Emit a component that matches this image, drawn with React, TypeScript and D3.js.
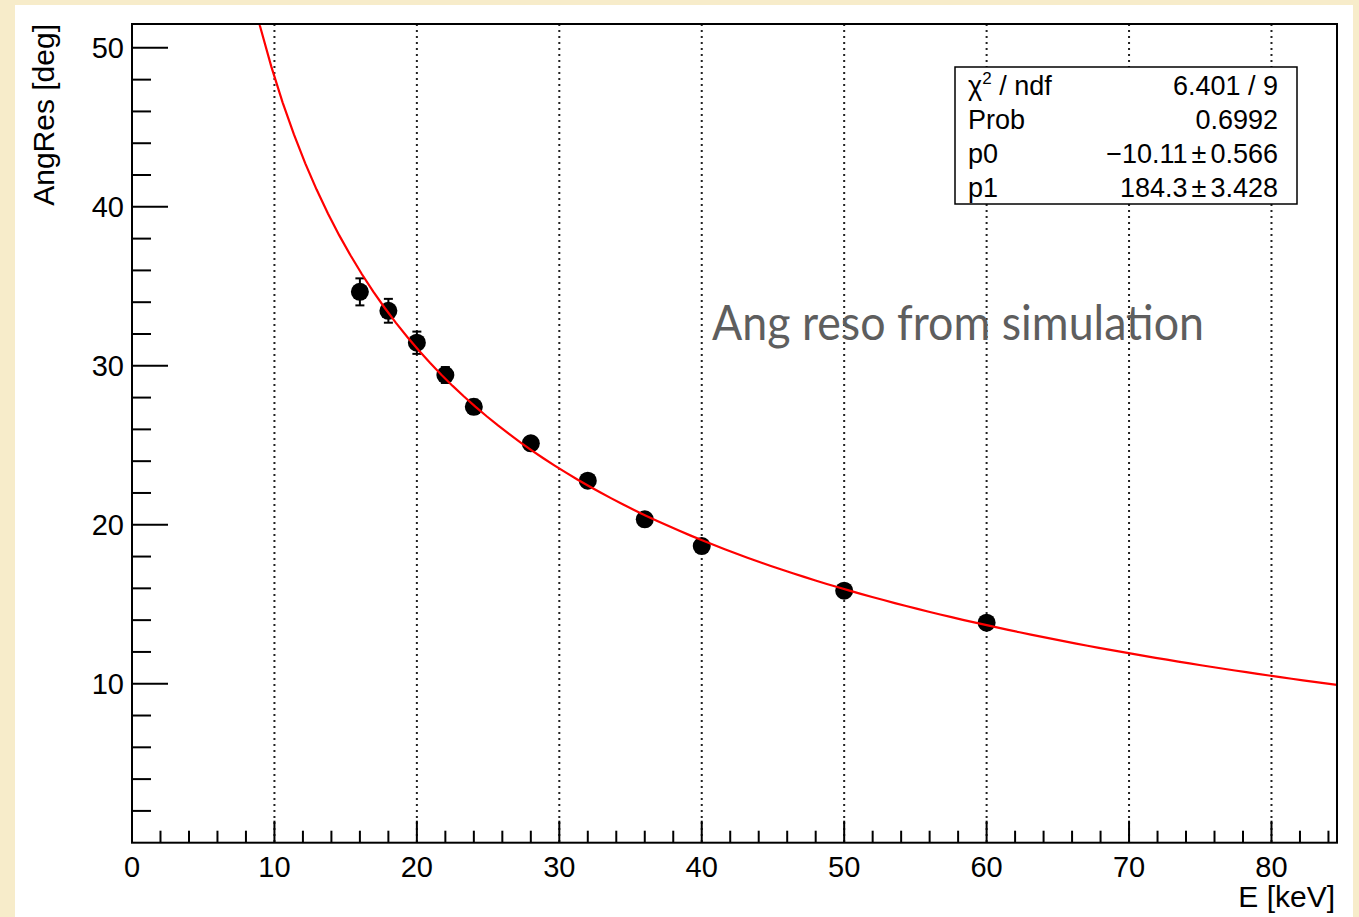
import React from "react";
import * as d3 from "d3";

// ---- data ----
const energies = [16, 18, 20, 22, 24, 28, 32, 36, 40, 50, 60];
const angRes = [34.65, 33.46, 31.45, 29.42, 27.42, 25.12, 22.77, 20.34, 18.66, 15.85, 13.84];
const angErr = [0.85, 0.75, 0.7, 0.5, 0.45, 0.4, 0.4, 0.4, 0.4, 0.4, 0.4];

// fit parameters shown in the stats box: f(E) = p0 + p1 / sqrt(E)
const fitP0 = -10.11;
const fitP1 = 184.3;

const xTicks = [0, 10, 20, 30, 40, 50, 60, 70, 80];
const yTicks = [10, 20, 30, 40, 50];
const gridX = [10, 20, 30, 40, 50, 60, 70, 80];

const statsLabels = ["χ", "Prob", "p0", "p1"];
const statsValues = ["6.401 / 9", "0.6992", "−10.11±0.566", "184.3±3.428"];

const xTitle = "E [keV]";
const yTitle = "AngRes [deg]";
const annotation = "Ang reso from simulation";

const W = 1359;
const H = 917;
const frame = { left: 132, right: 1337, top: 24, bottom: 842.7 };

export default function App() {
  const x = d3.scaleLinear().domain([0, 84.6]).range([frame.left, frame.right]);
  const y = d3.scaleLinear().domain([0, 51.5]).range([frame.bottom, frame.top]);

  const xMinor = d3.range(2, 85, 2).filter((v) => v % 10 !== 0);
  const yMinor = d3.range(2, 52, 2).filter((v) => v % 10 !== 0);

  const fitXs = d3.range(0, 101).map((i) => 5 + (i * (84.6 - 5)) / 100);
  const fitLine = d3
    .line<number>()
    .x((e) => x(e))
    .y((e) => y(fitP0 + fitP1 / Math.sqrt(e)));

  const font = "'Liberation Sans', Arial, Helvetica, sans-serif";
  const fb = frame.bottom;

  const renderValue = (v: string) => {
    const parts = v.split("±");
    if (parts.length === 1) return v;
    return (
      <>
        {parts[0]}
        <tspan dx={4}>±</tspan>
        <tspan dx={4}>{parts[1]}</tspan>
      </>
    );
  };

  return (
    <svg
      width={W}
      height={H}
      style={{ position: "absolute", left: 0, top: 0, display: "block" }}
      fontFamily={font}
    >
      <defs>
        <clipPath id="plotClip">
          <rect x={frame.left} y={frame.top} width={frame.right - frame.left} height={fb - frame.top} />
        </clipPath>
      </defs>
      <rect x={0} y={0} width={W} height={H} fill="#f7ecca" />
      <rect x={15} y={5} width={1338} height={H - 5} fill="#ffffff" />

      {/* vertical dotted grid */}
      {gridX.map((g) => (
        <line
          key={"g" + g}
          x1={x(g)}
          x2={x(g)}
          y1={frame.top}
          y2={fb}
          stroke="#222"
          strokeWidth={2}
          strokeDasharray="2,4"
        />
      ))}

      {/* annotation */}
      <text
        x={712}
        y={340}
        fontFamily="Lato, 'Open Sans', sans-serif"
        fontSize={48}
        fill="#5e5e5e"
        textLength={492}
        lengthAdjust="spacingAndGlyphs"
      >
        {annotation}
      </text>

      {/* data points with error bars */}
      <g>
        {energies.map((e, i) => {
          const cx = x(e);
          const cy = y(angRes[i]);
          const y1 = y(angRes[i] + angErr[i]);
          const y2 = y(angRes[i] - angErr[i]);
          return (
            <g key={"p" + e}>
              <line x1={cx} x2={cx} y1={y1} y2={y2} stroke="#000" strokeWidth={2} />
              <line x1={cx - 4.5} x2={cx + 4.5} y1={y1} y2={y1} stroke="#000" strokeWidth={2} />
              <line x1={cx - 4.5} x2={cx + 4.5} y1={y2} y2={y2} stroke="#000" strokeWidth={2} />
              <circle cx={cx} cy={cy} r={9} fill="#000" />
            </g>
          );
        })}
      </g>

      {/* fit curve */}
      <path
        d={fitLine(fitXs) || ""}
        fill="none"
        stroke="#ff0000"
        strokeWidth={2.2}
        clipPath="url(#plotClip)"
      />

      {/* frame */}
      <rect
        x={frame.left}
        y={frame.top}
        width={frame.right - frame.left}
        height={fb - frame.top}
        fill="none"
        stroke="#000"
        strokeWidth={2}
      />

      {/* y ticks */}
      {yTicks.map((t) => (
        <g key={"yt" + t}>
          <line x1={frame.left} x2={frame.left + 36} y1={y(t)} y2={y(t)} stroke="#000" strokeWidth={2} />
          <text x={124} y={y(t)} dy="0.36em" textAnchor="end" fontSize={29} fill="#000">
            {t}
          </text>
        </g>
      ))}
      {yMinor.map((t) => (
        <line key={"ym" + t} x1={frame.left} x2={frame.left + 19} y1={y(t)} y2={y(t)} stroke="#000" strokeWidth={2} />
      ))}

      {/* x ticks */}
      {xTicks.map((t) => (
        <g key={"xt" + t}>
          <line x1={x(t)} x2={x(t)} y1={fb} y2={fb - 22} stroke="#000" strokeWidth={2} />
          <text x={x(t)} y={877} textAnchor="middle" fontSize={29} fill="#000">
            {t}
          </text>
        </g>
      ))}
      {xMinor.map((t) => (
        <line key={"xm" + t} x1={x(t)} x2={x(t)} y1={fb} y2={fb - 12} stroke="#000" strokeWidth={2} />
      ))}

      {/* axis titles */}
      <text x={1335} y={907} textAnchor="end" fontSize={30} fill="#000">
        {xTitle}
      </text>
      <text
        transform={`translate(54, 24) rotate(-90)`}
        textAnchor="end"
        fontSize={30}
        fill="#000"
      >
        {yTitle}
      </text>

      {/* stats box */}
      <rect x={955} y={67} width={342} height={137} fill="#fff" stroke="#000" strokeWidth={1.5} />
      {statsLabels.map((lab, i) => {
        const by = 95 + i * 34;
        return (
          <g key={"s" + i}>
            {i === 0 ? (
              <text x={968} y={by} fontSize={27} fill="#000">
                χ
                <tspan fontSize={17} dy={-11}>2</tspan>
                <tspan dy={11}> / ndf</tspan>
              </text>
            ) : (
              <text x={968} y={by} fontSize={27} fill="#000">
                {lab}
              </text>
            )}
            <text x={1278} y={by} textAnchor="end" fontSize={27} fill="#000">
              {renderValue(statsValues[i])}
            </text>
          </g>
        );
      })}
    </svg>
  );
}
